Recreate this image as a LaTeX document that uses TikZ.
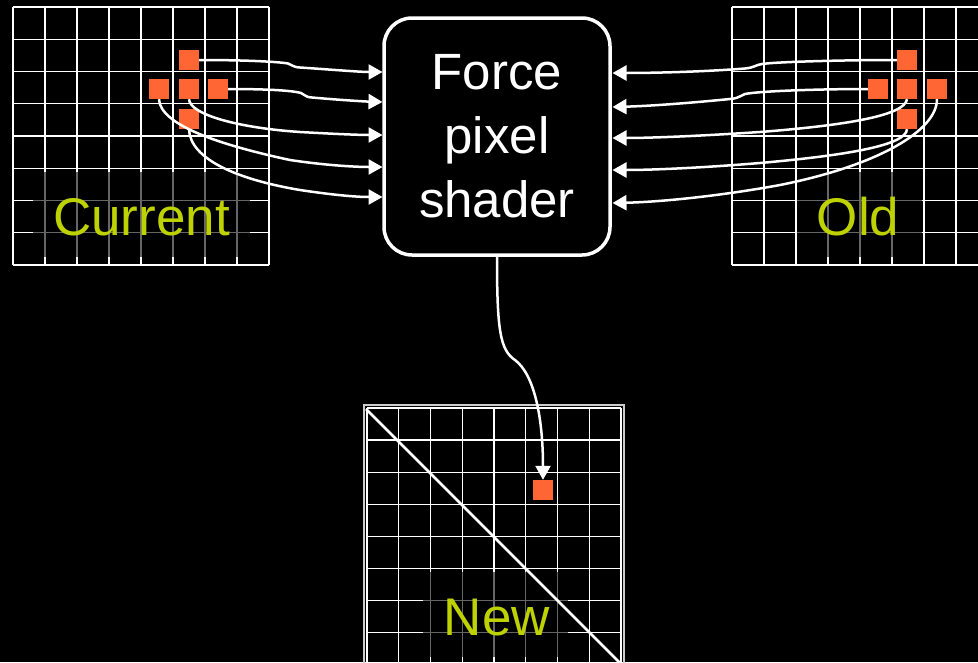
\documentclass[tikz,border=0pt]{standalone}
\usepackage{fontspec}
\newfontfamily\arialf{Liberation Sans}
\usetikzlibrary{arrows.meta}
\definecolor{pxor}{RGB}{255,102,51}
\definecolor{lblc}{RGB}{189,210,0}
\begin{document}
\begin{tikzpicture}[x=1pt,y=-1pt,
 gridl/.style={white, line width=1.4pt},
 framel/.style={white!80!black, line width=2pt},
 dimbox/.style={fill=black, fill opacity=0.6},
 lbl/.style={text=lblc, font=\arialf\fontsize{53}{60}\selectfont, inner sep=0pt, anchor=base},
 px/.style={fill=pxor, minimum size=20pt, inner sep=0pt, draw=none},
 shader/.style={draw=white, fill=black, line width=3.5pt, rounded corners=28pt, minimum width=226pt, minimum height=237pt, text=white, align=center, font=\arialf\fontsize{51}{64}\selectfont},
 conn/.style={white, line width=2.5pt, -{Triangle[length=14pt,width=15pt]}}
]
\clip (0,0) rectangle (978,662);
\fill[black] (0,0) rectangle (978,662);

% Current grid
\foreach \i in {0,...,8} {
  \draw[gridl] ({13+32*\i},7) -- ({13+32*\i},265);
  \draw[gridl] (13,{7+32.25*\i}) -- (269,{7+32.25*\i});
}
% Old grid
\foreach \i in {0,...,8} {
  \draw[gridl] ({732+32*\i},7) -- ({732+32*\i},265);
  \draw[gridl] (732,{7+32.25*\i}) -- (988,{7+32.25*\i});
}
% New grid
\foreach \i in {0,...,8} {
  \draw[gridl] ({367+31.75*\i},408) -- ({367+31.75*\i},680);
  \draw[gridl] (367,{408+32.1*\i}) -- (621,{408+32.1*\i});
}
\draw[framel] (364,405) rectangle (624,690);

% label backgrounds
\fill[dimbox] (33,172) rectangle (250,257);
\fill[dimbox] (797,172) rectangle (922,257);
\fill[dimbox] (423,572) rectangle (568,657);
\draw[white, line width=2.5pt] (366,409) -- (625,668);
\node[lbl] (curlab) at (141.5,235) {Current};
\node[lbl] (oldlab) at (858,235) {Old};
\node[lbl] (newlab) at (497,635) {New};

% pixels
\node[px] (c1) at (189,60) {};
\node[px] (c2) at (159,89) {};
\node[px] (c3) at (189,89) {};
\node[px] (c4) at (218,89) {};
\node[px] (c5) at (189,119) {};
\node[px] (o1) at (907,60) {};
\node[px] (o2) at (878,89) {};
\node[px] (o3) at (907,89) {};
\node[px] (o4) at (937,89) {};
\node[px] (o5) at (907,119) {};
\node[px] (n1) at (543,490) {};

% shader box
\node[shader] (box) at (497,136.5) {Force\\pixel\\shader};

\coordinate (l1) at (382.5,72);
\coordinate (l2) at (382.5,102);
\coordinate (l3) at (382.5,135);
\coordinate (l4) at (382.5,167);
\coordinate (l5) at (382.5,197);
\coordinate (r1) at (612.5,73);
\coordinate (r2) at (612.5,107);
\coordinate (r3) at (612.5,138);
\coordinate (r4) at (612.5,170);
\coordinate (r5) at (612.5,203);

% left arrows
\draw[conn] (c1.east) .. controls (250,60) and (280,62) .. (288,63.5) .. controls (292,64.5) and (292,67) .. (300,67.5) .. controls (330,69.5) and (360,72) .. (l1);
\draw[conn] (c4.east) .. controls (260,89) and (290,90) .. (301,93) .. controls (305,94) and (304,97) .. (312,97.5) .. controls (340,100) and (365,101.5) .. (l2);
\draw[conn] (c3.south) .. controls (190,115) and (240,128) .. (300,132) .. controls (335,134) and (360,135) .. (l3);
\draw[conn] (c2.south) .. controls (160,125) and (220,145) .. (290,160) .. controls (330,166) and (360,167) .. (l4);
\draw[conn] (c5.south) .. controls (190,160) and (240,180) .. (300,190) .. controls (340,196) and (360,197) .. (l5);

% right arrows
\draw[conn] (o1.west) .. controls (840,60) and (775,62) .. (762,64) .. controls (755,65) and (755,67.5) .. (745,68.5) .. controls (700,72) and (650,73) .. (r1);
\draw[conn] (o2.west) .. controls (820,89) and (760,91) .. (745,94) .. controls (740,95) and (741,98) .. (730,99) .. controls (690,103) and (650,106) .. (r2);
\draw[conn] (o3.south) .. controls (905,115) and (850,125) .. (760,132) .. controls (700,136) and (650,138) .. (r3);
\draw[conn] (o5.south) .. controls (906,145) and (850,155) .. (760,163) .. controls (700,168) and (650,170) .. (r4);
\draw[conn] (o4.south) .. controls (937,130) and (880,165) .. (780,185) .. controls (720,196) and (660,202) .. (r5);

% down arrow
\draw[conn] (box.south) .. controls (497,330) and (500,350) .. (515,360) .. controls (535,375) and (543,420) .. (n1.north);
\end{tikzpicture}
\end{document}
